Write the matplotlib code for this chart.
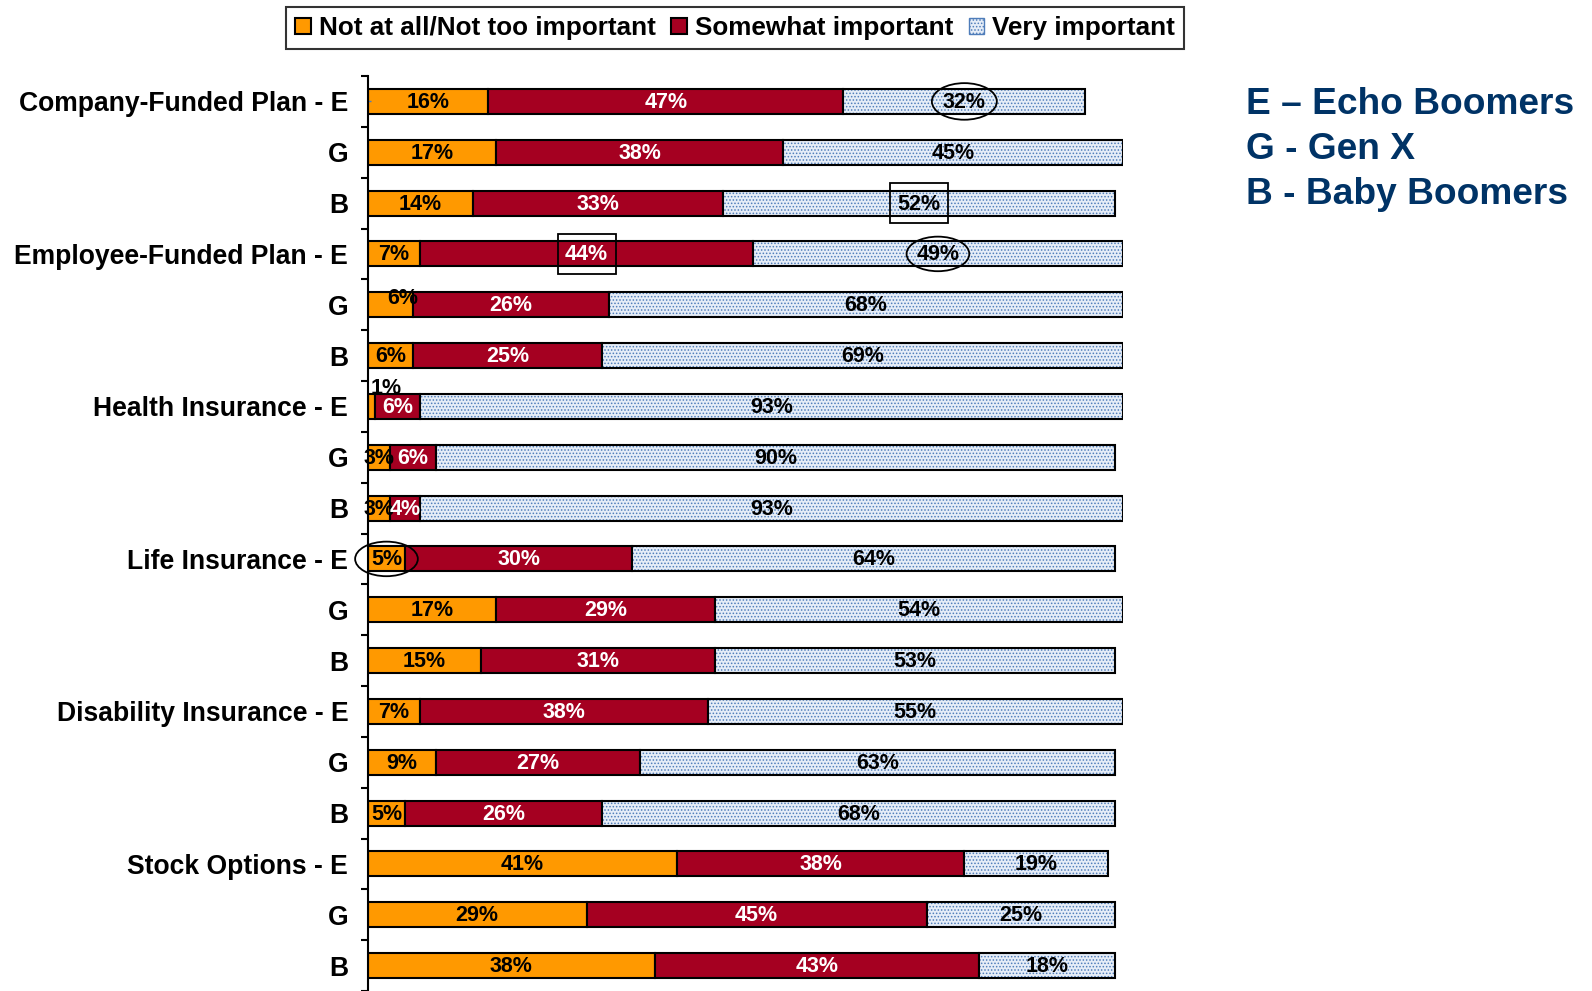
import numpy as np
import matplotlib
matplotlib.use('Agg')
import matplotlib.pyplot as plt
from matplotlib.patches import Ellipse, Rectangle

# Row labels, top to bottom (E / G / B per benefit)
rowLabels = ['Company-Funded Plan - E', 'G', 'B',
             'Employee-Funded Plan - E', 'G', 'B',
             'Health Insurance - E', 'G', 'B',
             'Life Insurance - E', 'G', 'B',
             'Disability Insurance - E', 'G', 'B',
             'Stock Options - E', 'G', 'B']

# Percent of each group
notImportant = [16, 17, 14, 7, 6, 6, 1, 3, 3, 5, 17, 15, 7, 9, 5, 41, 29, 38]
somewhat     = [47, 38, 33, 44, 26, 25, 6, 6, 4, 30, 29, 31, 38, 27, 26, 38, 45, 43]
veryImp      = [32, 45, 52, 49, 68, 69, 93, 90, 93, 64, 54, 53, 55, 63, 68, 19, 25, 18]

seriesNames = ['Not at all/Not too important', 'Somewhat important', 'Very important']
groupKey = ['E \u2013 Echo Boomers', 'G - Gen X', 'B - Baby Boomers']

# colours
orange = '#FF9900'
crimson = '#A50021'
paleBlue = '#E6EDF7'
dotBlue = '#4F7DBA'
navy = '#003366'

plt.rcParams.update({'font.family': 'Liberation Sans', 'font.weight': 'bold',
                     'hatch.linewidth': 0.7})

fig = plt.figure(figsize=(15.92, 9.91), dpi=100)
ax = fig.add_axes([0.2309, 0.0, 0.4745, 0.9233])

y = np.arange(len(rowLabels))
h = 0.49
left2 = np.array(notImportant)
left3 = left2 + np.array(somewhat)

ax.barh(y, notImportant, height=h, color=orange, edgecolor='black', linewidth=1.5, label=seriesNames[0])
ax.barh(y, somewhat, height=h, left=left2, color=crimson, edgecolor='black', linewidth=1.5, label=seriesNames[1])
# dotted fill first, then a plain black outline on top (hatch takes the edge colour)
ax.barh(y, veryImp, height=h, left=left3, color=paleBlue, edgecolor=dotBlue, linewidth=0, hatch='.....')
ax.barh(y, veryImp, height=h, left=left3, fill=False, edgecolor='black', linewidth=1.5)

# proxy handle for the dotted series
ax.bar([0], [0], color=paleBlue, edgecolor=dotBlue, hatch='.....', label=seriesNames[2])

# value labels, centred in each segment
nudge = {(4, 0): (1.7, -0.15), (6, 0): (1.9, -0.38)}
lefts = [np.zeros(len(y)), left2, left3]
vals = [notImportant, somewhat, veryImp]
txtColors = ['black', 'white', 'black']
for s in range(3):
    for i in range(len(y)):
        dx, dy = nudge.get((i, s), (0, 0))
        ax.text(lefts[s][i] + vals[s][i] / 2 + dx, y[i] + dy + 0.02, '%d%%' % vals[s][i],
                ha='center', va='center', fontsize=15.5, fontweight='bold', color=txtColors[s])

# circled / boxed callouts: (row, series, shape, width, height)
callouts = [(0, 2, 'ellipse', 8.6, 0.72), (2, 2, 'box', 7.7, 0.78), (3, 1, 'box', 7.7, 0.78),
            (3, 2, 'ellipse', 8.3, 0.68), (9, 0, 'ellipse', 8.3, 0.68)]
for r, s, shape, w, hh in callouts:
    cx = lefts[s][r] + vals[s][r] / 2
    if shape == 'ellipse':
        p = Ellipse((cx, y[r]), w, hh, fill=False, edgecolor='black', linewidth=1.3, zorder=5, clip_on=False)
    else:
        p = Rectangle((cx - w / 2, y[r] - hh / 2), w, hh, fill=False, edgecolor='black', linewidth=1.3, zorder=5)
    ax.add_patch(p)

ax.set_xlim(0, 100)
ax.set_ylim(len(y) - 0.5, -0.5)
ax.set_yticks(y)
ax.set_yticklabels(rowLabels, fontsize=19.1, fontweight='bold')
ax.set_yticks(np.arange(len(y) + 1) - 0.5, minor=True)
ax.tick_params(axis='y', which='major', length=0, pad=14)
ax.tick_params(axis='y', which='minor', length=5, width=1.5, direction='out')
ax.set_xticks([])
for side in ['top', 'right', 'bottom']:
    ax.spines[side].set_visible(False)
ax.spines['left'].set_linewidth(1.5)

leg = fig.legend(loc='center', bbox_to_anchor=(0.4617, 0.9717), ncol=3, fontsize=18.8,
                 frameon=True, fancybox=False, edgecolor='black', handlelength=0.6,
                 handleheight=0.6, handletextpad=0.3, columnspacing=0.6, borderpad=0.35)
leg.get_frame().set_linewidth(1.5)
for t in leg.get_texts():
    t.set_fontweight('bold')

# group key on the right
for k, ty in enumerate([0.8945, 0.8494, 0.8042]):
    fig.text(0.7827, ty, groupKey[k], fontsize=26.7, fontweight='bold', color=navy, va='center', ha='left')

fig.savefig('out.png', dpi=100)
